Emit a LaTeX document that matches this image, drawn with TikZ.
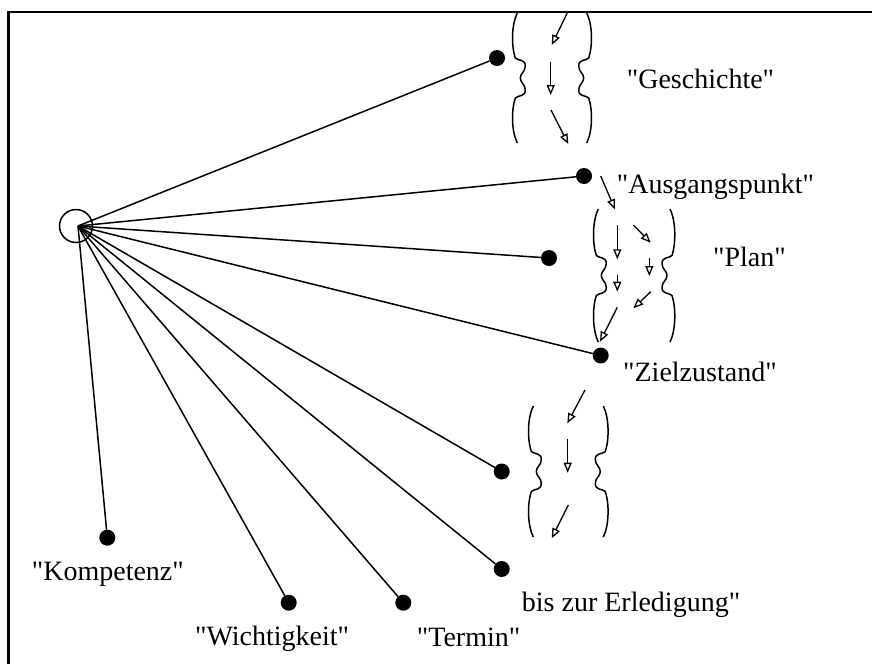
\documentclass[tikz,border=0pt]{standalone}
\usepackage{fontspec}
\setmainfont{Liberation Serif}[Ligatures=TeXOff]
\usetikzlibrary{arrows.meta}
\newcommand\mybracepath[2]{(5,0) .. controls (-1,12) and (-1,#2-32) .. (3,#2-20) .. controls (6,#2-17) and (13,#2-19) .. (13,#2-12) .. controls (13,#2-6) and (8,#2-5) .. (8,#2) .. controls (8,#2+5) and (13,#2+6) .. (13,#2+12) .. controls (13,#2+19) and (6,#2+17) .. (3,#2+20) .. controls (-1,#2+32) and (-1,#1-12) .. (5,#1)}
\newcommand\mybracepair[4]{%
  \draw[brc, shift={(#1,#3)}] \mybracepath{#4}{#4/2};
  \draw[brc, shift={(#2,#3)}, xscale=-1] \mybracepath{#4}{#4/2};}
\begin{document}
\begin{tikzpicture}[x=1pt,y=-1pt,
  frame/.style={line width=2.5pt},
  ln/.style={line width=1.5pt},
  brc/.style={line width=1.5pt,line join=round},
  arr/.style={line width=1.3pt,-{Triangle[length=10pt,width=8pt,fill=white]}},
  dot/.style={circle,fill=black,inner sep=0pt,minimum size=16pt},
  hubst/.style={circle,draw,line width=1.5pt,inner sep=0pt,minimum size=33pt},
  lbl/.style={inner sep=0pt,anchor=base west,font=\fontsize{28}{30}\selectfont}]
\useasboundingbox (0,0) rectangle (872,664);
\draw[frame] (8.5,664) -- (8.5,12) -- (872,12);
% hub
\node[hubst] (hub) at (76,226) {};
\coordinate (hc) at (78,226);
% dots
\node[dot] (d1) at (497,58) {};
\node[dot] (d2) at (584,176) {};
\node[dot] (d3) at (549,258) {};
\node[dot] (d4) at (600.7,355.5) {};
\node[dot] (d5) at (501.7,471.5) {};
\node[dot] (d6) at (501.7,569) {};
\node[dot] (d7) at (107.3,537.7) {};
\node[dot] (d8) at (288.7,602.7) {};
\node[dot] (d9) at (403.3,602.7) {};
\foreach \d in {d1,d2,d3,d4,d5,d6,d7,d8,d9} \draw[ln] (hc) -- (\d);
% labels
\node[lbl] (t1) at (626.7,88.3) {"Geschichte"};
\node[lbl] (t2) at (616.7,193.3) {"Ausgangspunkt"};
\node[lbl] (t3) at (713,266.7) {"Plan"};
\node[lbl] (t4) at (623,381.7) {"Zielzustand"};
\node[lbl] (t5) at (521.7,611.7) {bis zur Erledigung"};
\node[lbl] (t6) at (31.7,580) {"Kompetenz"};
\node[lbl] (t7) at (195,645) {"Wichtigkeit"};
\node[lbl] (t8) at (416.7,646) {"Termin"};
% braces
\mybracepair{512.3}{591.7}{13}{130}
\mybracepair{593.3}{675}{209}{133}
\mybracepair{528.3}{608.3}{406}{131}
% arrows group 1
\draw[arr] (567.7,12) -- (551.7,45);
\draw[arr] (550.7,61.7) -- (550.7,95);
\draw[arr] (551,110) -- (568.3,144);
% arrows group 2
\draw[arr] (600.7,176) -- (615,209.3);
\draw[arr] (617.3,225) -- (617.3,259.3);
\draw[arr] (633.3,225) -- (650.7,242.7);
\draw[arr] (649.3,258.3) -- (649.3,276);
\draw[arr] (617.3,275) -- (617.3,291.7);
\draw[arr] (650.7,291.7) -- (633.3,308.3);
\draw[arr] (617.3,307.3) -- (600,341.7);
% arrows group 3
\draw[arr] (585,390) -- (567.3,423.3);
\draw[arr] (567.7,439.3) -- (567.7,472.7);
\draw[arr] (568.3,505) -- (551.7,538.3);
\end{tikzpicture}
\end{document}
